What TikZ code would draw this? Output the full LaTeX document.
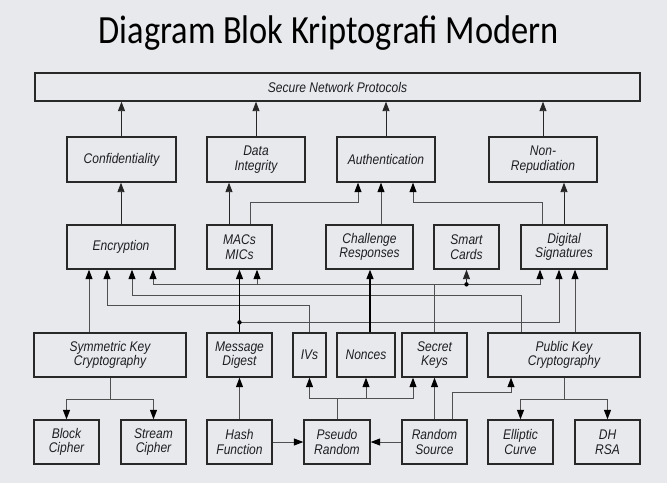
\documentclass[tikz,border=0pt]{standalone}
\usepackage{fontspec}
\setmainfont{Liberation Sans}[FakeStretch=0.86]
\newfontfamily\judulfont{Carlito}[FakeStretch=0.86]
\usetikzlibrary{arrows.meta, positioning, calc}
\definecolor{latar}{RGB}{232,233,236}
\definecolor{garisbox}{RGB}{40,40,40}
\definecolor{garis}{RGB}{80,80,80}
\definecolor{teks}{RGB}{30,30,35}

\tikzset{
  blok/.style={draw=garisbox, line width=1.3pt, align=center, inner sep=1pt,
    minimum height=44pt, text=teks, font=\itshape\fontsize{14}{14.7}\selectfont},
  panah/.style={-{Triangle[length=9.5pt,width=7pt]}, line width=0.9pt, black!85},
  tebal/.style={panah, line width=1.6pt, black},
  tipis/.style={-{Triangle[length=9.5pt,width=7pt,color=black]}, line width=1pt, garis},
}

\begin{document}
\begin{tikzpicture}[x=1pt, y=-1pt]
  \fill[latar] (0,0) rectangle (667,483);
  \useasboundingbox (0,0) rectangle (667,483);

  \node[font=\judulfont\fontsize{40}{40}\selectfont, anchor=base] (judul) at (328.5,43) {Diagram Blok Kriptografi Modern};

  % baris atas
  \node[blok, minimum width=605pt, minimum height=28pt] (protokol) at (337.5,87) {Secure Network Protocols};

  % layanan
  \node[blok, minimum width=109pt, minimum height=45pt] (conf) at (121.5,159.5) {Confidentiality};
  \node[blok, minimum width=98pt, minimum height=45pt] (integ) at (256,159.5) {Data\\Integrity};
  \node[blok, minimum width=98pt, minimum height=45pt] (auth) at (386,159.5) {Authentication};
  \node[blok, minimum width=108pt, minimum height=45pt] (nonrep) at (543,159.5) {Non-\\Repudiation};

  % mekanisme
  \node[blok, minimum width=108pt] (enc) at (121,247) {Encryption};
  \node[blok, minimum width=65pt] (macs) at (239.5,247) {MACs\\MICs};
  \node[blok, minimum width=87pt] (chal) at (369.5,247) {Challenge\\Responses};
  \node[blok, minimum width=65pt] (smart) at (466.5,247) {Smart\\Cards};
  \node[blok, minimum width=86pt] (digsig) at (564,247) {Digital\\Signatures};

  % primitif
  \node[blok, minimum width=152pt] (sym) at (110,355) {Symmetric Key\\Cryptography};
  \node[blok, minimum width=65pt] (msgd) at (239.5,355) {Message\\Digest};
  \node[blok, minimum width=33pt] (ivs) at (309.5,355) {IVs};
  \node[blok, minimum width=58pt] (nonces) at (366,355) {Nonces};
  \node[blok, minimum width=65pt] (secret) at (434.5,355) {Secret\\Keys};
  \node[blok, minimum width=152pt] (pubkey) at (564,355) {Public Key\\Cryptography};

  % dasar
  \node[blok, minimum width=65pt] (block) at (66.5,442) {Block\\Cipher};
  \node[blok, minimum width=65pt] (stream) at (153.5,442) {Stream\\Cipher};
  \node[blok, minimum width=65pt] (hash) at (239.5,442) {Hash\\Function};
  \node[blok, minimum width=66pt] (pseudo) at (337,442) {Pseudo\\Random};
  \node[blok, minimum width=65pt] (randsrc) at (434.5,442) {Random\\Source};
  \node[blok, minimum width=65pt] (elliptic) at (520.5,442) {Elliptic\\Curve};
  \node[blok, minimum width=65pt] (dhrsa) at (607.5,442) {DH\\RSA};

  % titik cabang
  \coordinate (skbus) at ([yshift=48pt]secret.north);
  \coordinate (mddot) at ([yshift=10pt]msgd.north);
  \coordinate (symsplit) at ([yshift=-22pt]sym.south);
  \coordinate (pksplit) at ([yshift=-22pt]pubkey.south);
  \coordinate (prsplit) at ([yshift=21pt]pseudo.north);
  \coordinate (macsin) at ([xshift=17.5pt]macs.south);

  % ke protokol
  \draw[panah] (conf.north) -- (conf.north |- protokol.south);
  \draw[panah] (integ.north) -- (integ.north |- protokol.south);
  \draw[panah] (auth.north) -- (auth.north |- protokol.south);
  \draw[panah] (nonrep.north) -- (nonrep.north |- protokol.south);

  % ke layanan
  \draw[panah] (enc.north) -- (enc.north |- conf.south);
  \draw[panah] ([xshift=-10.5pt]macs.north) -- ([xshift=-27pt]integ.south);
  \draw[tipis] ([xshift=10.5pt]macs.north) -- ++(0,-22) -| ([xshift=-28pt]auth.south);
  \draw[tipis] ([xshift=11.5pt]chal.north) -- ([xshift=-5pt]auth.south);
  \draw[tipis] ([xshift=-22pt]digsig.north) -- ++(0,-22) -| ([xshift=27pt]auth.south);
  \draw[panah] (digsig.north) -- ([xshift=21pt]nonrep.south);

  % ke mekanisme
  \draw[tipis] ([xshift=-21pt]sym.north) -- ([xshift=-32pt]enc.south);
  \draw[tipis] (ivs.north) -- ++(0,-27) -| ([xshift=-14pt]enc.south);
  \draw[tipis] ([xshift=-43pt]pubkey.north) -- ++(0,-37) -| ([xshift=11pt]enc.south);
  \draw[tipis] (secret.north) -- (skbus) -| ([xshift=32pt]enc.south);
  \draw[tipis] (skbus) -| ([xshift=-24pt]digsig.south);
  \draw[tipis] (macsin |- skbus) -- (macsin);
  \draw[panah] (smart.south |- skbus) -- (smart.south);
  \fill (smart.south |- skbus) circle (2.2pt);
  \draw[tebal] (msgd.north) -- (macs.south);
  \draw[tipis] (mddot) -| ([xshift=-5pt]digsig.south);
  \fill (mddot) circle (2.2pt);
  \draw[tebal] ([xshift=4pt]nonces.north) -- ([xshift=0.5pt]chal.south);
  \draw[tipis] ([xshift=11pt]pubkey.north) -- ([xshift=11pt]digsig.south);

  % ke primitif
  \draw[tipis] (sym.south) -- (symsplit) -| (block.north);
  \draw[tipis] (symsplit) -| (stream.north);
  \draw[tipis] (pubkey.south) -- (pksplit) -| (elliptic.north);
  \draw[tipis] (pksplit) -| (dhrsa.north);
  \draw[tipis] (hash.north) -- (msgd.south);
  \draw[tipis] (hash.east) -- (pseudo.west);
  \draw[tipis] (randsrc.west) -- (pseudo.east);
  \draw[tipis] (pseudo.north) -- (prsplit) -| (ivs.south);
  \draw[tipis] (prsplit) -| (nonces.south);
  \draw[tipis] (prsplit) -| ([xshift=-21.5pt]secret.south);
  \draw[tipis] (randsrc.north) -- (secret.south);
  \draw[tipis] ([xshift=17.5pt]randsrc.north) -- ++(0,-27) -| ([xshift=-53pt]pubkey.south);
\end{tikzpicture}
\end{document}
